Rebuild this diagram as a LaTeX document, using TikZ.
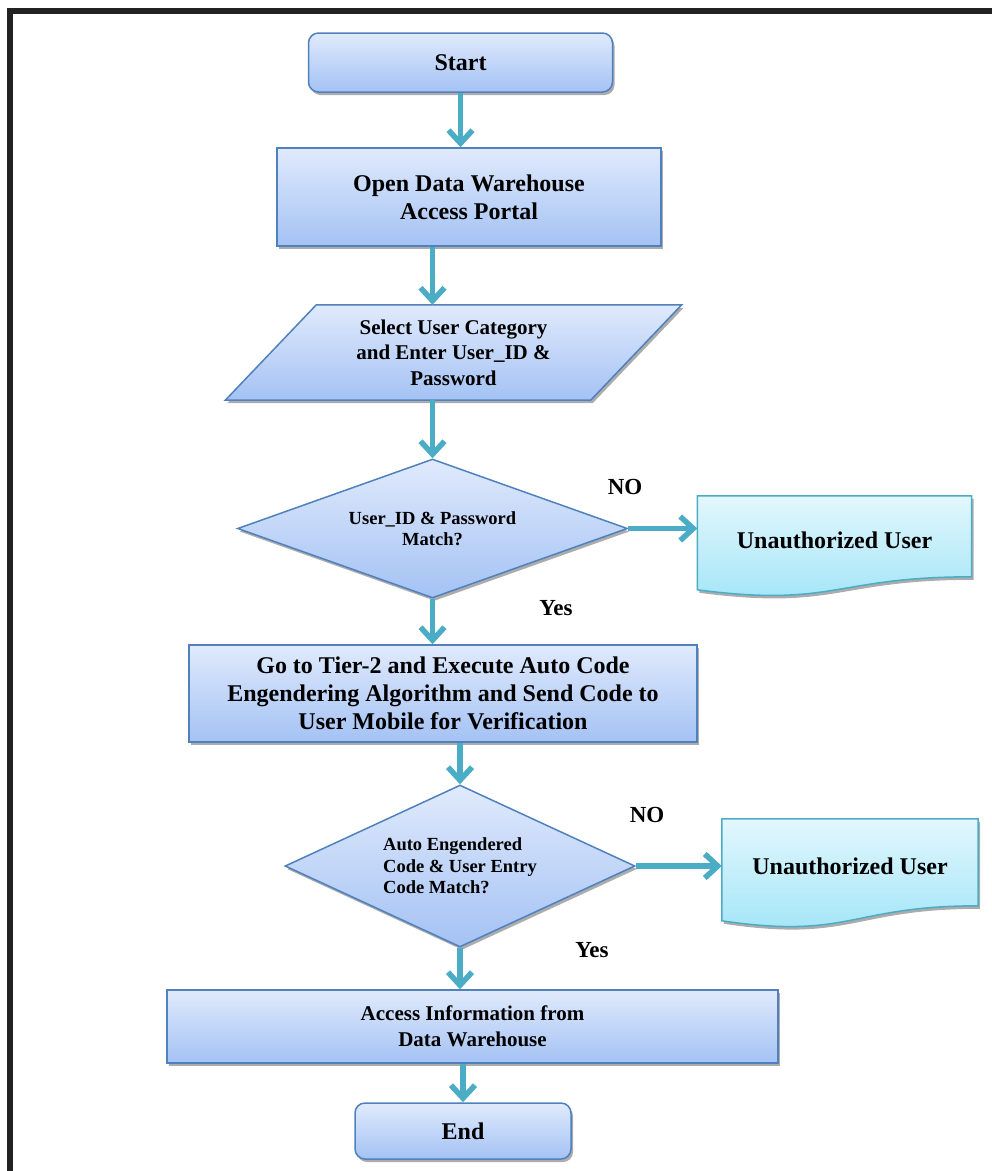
\documentclass[tikz,border=0pt]{standalone}
\usepackage{fontspec}
\setmainfont{Liberation Serif}
\usetikzlibrary{shapes.geometric,arrows.meta,shadows,backgrounds,calc,positioning}
\definecolor{boxline}{RGB}{79,129,189}
\definecolor{boxtop}{RGB}{224,234,252}
\definecolor{boxbot}{RGB}{164,194,244}
\definecolor{docline}{RGB}{75,172,198}
\definecolor{doctop}{RGB}{226,247,253}
\definecolor{docbot}{RGB}{160,228,247}
\definecolor{flowc}{RGB}{75,172,198}
\definecolor{framec}{RGB}{34,34,34}
\newcommand{\bigtxt}{\fontsize{24}{28}\selectfont}
\newcommand{\midtxt}{\fontsize{21}{25.5}\selectfont}
\newcommand{\smalltxt}{\fontsize{18.5}{21.5}\selectfont}
\begin{document}
\begin{tikzpicture}[x=1pt, y=-1pt, font=\bfseries,
  shade/.style={general shadow={fill=gray!65, shadow xshift=2pt, shadow yshift=-3pt}},
  box/.style={draw=boxline, line width=1.5pt, top color=boxtop, bottom color=boxbot, shade, align=center, inner sep=0pt},
  term/.style={box, rounded corners=10pt},
  decision/.style={box, diamond, aspect=2.8},
  docshape/.style={draw=docline, line width=1.5pt, top color=doctop, bottom color=docbot, shade},
  flow/.style={line width=5.5pt, draw=flowc, -{Straight Barb[length=13pt,width=24pt]},
    preaction={draw=gray!60, transform canvas={shift={(1.5pt,-1.5pt)}}}},
  lbl/.style={font=\bfseries\fontsize{23}{27}\selectfont}]
  \useasboundingbox (0,0) rectangle (992,1171);
  \draw[framec, line width=6pt] (10,1171) -- (10,11) -- (992,11);

  % main column
  \node[term, minimum width=304pt, minimum height=59pt, font=\bfseries\bigtxt] (start) at (460.5,62.5) {Start};
  \node[box, minimum width=384pt, minimum height=98pt, font=\bfseries\bigtxt] (open) at (469,197) {Open Data Warehouse\\Access Portal};
  \node[align=center, minimum width=365pt, minimum height=95pt, inner sep=0pt, font=\bfseries\midtxt] (sel) at (453.5,352.5) {Select User Category\\and Enter User\_ID \&\\Password};
  \node[decision, minimum width=390pt, minimum height=139pt, font=\bfseries\smalltxt] (dec1) at (432.5,528.5) {User\_ID \& Password\\Match?};
  \node[box, minimum width=508pt, minimum height=97pt, font=\bfseries\bigtxt] (go) at (443,693.5) {Go to Tier-2 and Execute Auto Code\\Engendering Algorithm and Send Code to\\User Mobile for Verification};
  \node[decision, minimum width=350pt, minimum height=162pt, align=left, font=\bfseries\smalltxt] (dec2) at (460,866) {Auto Engendered\\Code \& User Entry\\Code Match?};
  \node[box, minimum width=611pt, minimum height=73pt, font=\bfseries\midtxt] (acc) at (472.5,1026.5) {Access Information from\\Data Warehouse};
  \node[term, minimum width=216pt, minimum height=56pt, font=\bfseries\bigtxt] (end) at (463,1131) {End};

  % side outputs
  \node[minimum width=274pt, minimum height=88pt, inner sep=0pt, font=\bfseries\bigtxt] (u1) at (834.5,540) {Unauthorized User};
  \node[minimum width=256pt, minimum height=94pt, inner sep=0pt, font=\bfseries\bigtxt] (u2) at (850,866) {Unauthorized User};

  % outlines behind the texts
  \begin{scope}[on background layer]
    \path[box] ($(sel.south west)+(-45.5,0)$) -- ($(sel.north west)+(45.5,0)$)
      -- ($(sel.north east)+(45.5,0)$) -- ($(sel.south east)+(-45.5,0)$) -- cycle;
    \path[docshape] (u1.north west) -- (u1.north east) -- ($(u1.north east)+(0,81)$)
      .. controls ($(u1.north)+(0,81)$) and ($(u1.north)+(0,112)$) .. ($(u1.north west)+(0,94)$) -- cycle;
    \path[docshape] (u2.north west) -- (u2.north east) -- ($(u2.north east)+(0,87)$)
      .. controls ($(u2.north)+(0,87)$) and ($(u2.north)+(0,121)$) .. ($(u2.north west)+(0,102)$) -- cycle;
  \end{scope}

  % labels
  \node[lbl] (no1) at (625,487) {NO};
  \node[lbl] (yes1) at (556,608) {Yes};
  \node[lbl] (no2) at (647,815) {NO};
  \node[lbl] (yes2) at (592,950) {Yes};

  % connectors
  \draw[flow] (start.south) -- (start.south |- open.north);
  \draw[flow] (dec1.north |- open.south) -- (dec1.north |- sel.north);
  \draw[flow] (dec1.north |- sel.south) -- (dec1.north);
  \draw[flow] (dec1.east) -- (dec1.east -| u1.west);
  \draw[flow] (dec1.south) -- (dec1.south |- go.north);
  \draw[flow] (dec2.north |- go.south) -- (dec2.north);
  \draw[flow] (dec2.east) -- (dec2.east -| u2.west);
  \draw[flow] (dec2.south) -- (dec2.south |- acc.north);
  \draw[flow] (end.north |- acc.south) -- (end.north);
\end{tikzpicture}
\end{document}
